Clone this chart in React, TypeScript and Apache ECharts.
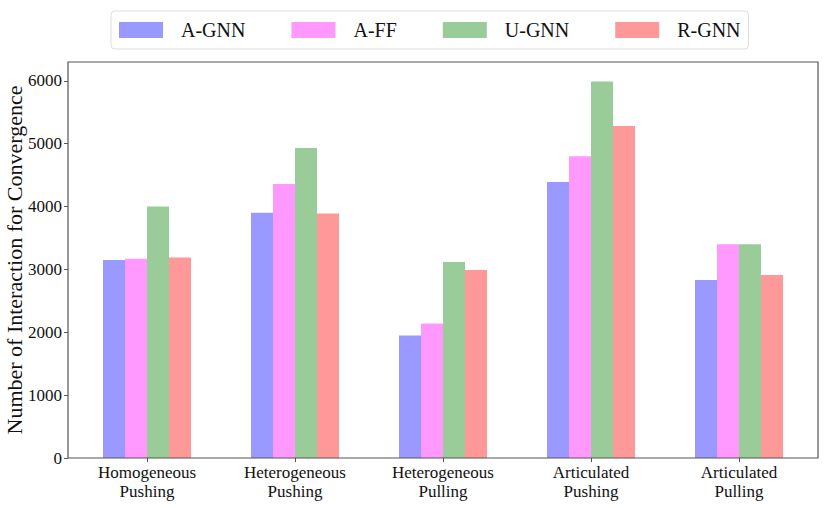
import React, { useEffect, useRef } from "react";
import * as echarts from "echarts";

const categories = [
  "Homogeneous\nPushing",
  "Heterogeneous\nPushing",
  "Heterogeneous\nPulling",
  "Articulated\nPushing",
  "Articulated\nPulling",
];
const seriesNames = ["A-GNN", "A-FF", "U-GNN", "R-GNN"];
const aGnn = [3150, 3900, 1950, 4390, 2830];
const aFf = [3170, 4360, 2140, 4800, 3400];
const uGnn = [4000, 4930, 3120, 5990, 3400];
const rGnn = [3190, 3890, 2990, 5280, 2910];
const colors = ["#9999ff", "#ff99ff", "#99cc99", "#ff9999"];
const yTicks = [0, 1000, 2000, 3000, 4000, 5000, 6000];
const yTitle = "Number of Interaction for Convergence";

const FONT = "Liberation Serif";

export default function App() {
  const ref = useRef<HTMLDivElement>(null);
  useEffect(() => {
    if (!ref.current) return;
    const chart = echarts.init(ref.current, undefined, { renderer: "svg" });
    const values = [aGnn, aFf, uGnn, rGnn];
    chart.setOption({
      animation: false,
      backgroundColor: "#ffffff",
      textStyle: { fontFamily: FONT },
      legend: {
        left: 111,
        top: 11,
        padding: [9, 8, 9, 8],
        itemWidth: 44,
        itemHeight: 16,
        itemGap: 46,
        borderColor: "#dddddd",
        borderWidth: 1,
        borderRadius: 4,
        icon: "rect",
        data: seriesNames,
        textStyle: {
          fontFamily: FONT,
          fontSize: 20,
          color: "#111",
          lineHeight: 20,
          padding: [0, 0, 0, 13],
        },
      },
      grid: {
        left: 73,
        right: 17,
        top: 62,
        bottom: 50,
        containLabel: false,
        outerBoundsMode: "none",
      },
      xAxis: {
        type: "category",
        data: categories,
        axisLine: { show: false },
        axisTick: {
          show: true,
          alignWithLabel: true,
          length: 4,
          lineStyle: { color: "#555" },
        },
        axisLabel: {
          fontFamily: FONT,
          fontSize: 17,
          lineHeight: 19,
          color: "#111",
          margin: 5,
          interval: 0,
        },
      },
      yAxis: {
        type: "value",
        min: 0,
        max: 6300,
        offset: 5,
        splitLine: { show: false },
        axisLine: { show: false },
        axisTick: {
          show: true,
          length: 4,
          customValues: yTicks,
          lineStyle: { color: "#555" },
        },
        axisLabel: {
          fontFamily: FONT,
          fontSize: 17,
          color: "#111",
          margin: 6,
          customValues: yTicks,
          formatter: (v: number) => String(v),
        },
        name: yTitle,
        nameLocation: "middle",
        nameGap: 43,
        nameMoveOverlap: false,
        nameTextStyle: { fontFamily: FONT, fontSize: 22, color: "#111" },
      },
      graphic: [
        {
          type: "rect",
          shape: { x: 68, y: 62, width: 750, height: 396 },
          style: { fill: "none", stroke: "#555", lineWidth: 1.2 },
          silent: true,
          z: 10,
        },
      ],
      series: seriesNames.map((name, i) => ({
        name,
        type: "bar",
        data: values[i],
        barWidth: 22,
        barGap: "0%",
        itemStyle: { color: colors[i] },
      })),
    });
    return () => chart.dispose();
  }, []);
  return (
    <div
      ref={ref}
      style={{ position: "absolute", left: 0, top: 0, width: 830, height: 508 }}
    />
  );
}
